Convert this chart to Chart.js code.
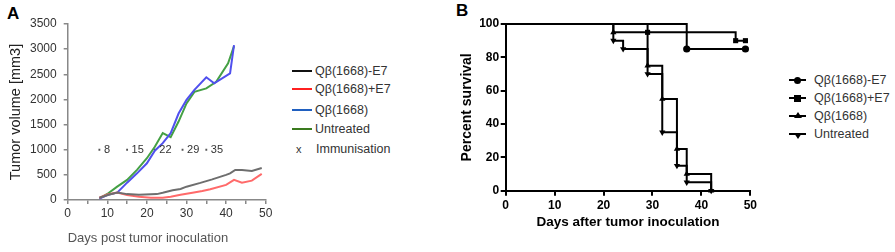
<!DOCTYPE html>
<html>
<head>
<meta charset="utf-8">
<script src="https://cdn.jsdelivr.net/npm/chart.js@4/dist/chart.umd.min.js"></script>
<style>
  body { margin:0; width:895px; height:252px; background:#fff; position:relative; overflow:hidden;
         font-family:"Liberation Sans", Arial, sans-serif; }
  #wrapA { position:absolute; left:0; top:0; width:280px; height:252px; }
  #wrapB { position:absolute; left:440px; top:0; width:320px; height:252px; }
  .panel { position:absolute; font-weight:bold; font-size:17px; color:#000; line-height:17px; }
  .leg { position:absolute; font-size:12.5px; color:#333; white-space:nowrap; line-height:14px; }
  .mk { position:absolute; background:#000; }
</style>
</head>
<body>
<div class="panel" style="left:7px;top:5px">A</div>
<div class="panel" style="left:456px;top:2px">B</div>
<div id="wrapA"><canvas id="chartA" width="280" height="252"></canvas></div>
<div id="wrapB"><canvas id="chartB" width="320" height="252"></canvas></div>
<div id="legends"></div>
<script>
// ---- panel A: tumour volume ----
const seriesNames = ['Qβ(1668)-E7', 'Qβ(1668)+E7', 'Qβ(1668)', 'Untreated'];

const daysE7minus = [8, 10.5, 12.5, 15, 18, 22.5, 24, 26.5, 28.5, 30, 33.5, 36.5, 40, 41, 42.3, 44, 46.5, 49];
const volE7minus  = [45, 110, 150, 117, 104, 117, 143, 195, 220, 265, 340, 410, 500, 530, 598, 595, 578, 635];

const daysE7plus = [8, 10, 12.5, 15, 18, 21, 24, 26, 28.5, 31.5, 34, 36, 40, 42, 44, 46.5, 49];
const volE7plus  = [45, 110, 150, 97, 65, 45, 45, 65, 105, 145, 180, 215, 300, 400, 345, 385, 520];

const daysQb = [8, 10, 12.5, 15, 17.5, 20, 22, 24, 26, 28, 30, 32, 35, 37, 41, 42];
const volQb  = [30, 100, 145, 345, 530, 730, 980, 1130, 1330, 1720, 1990, 2190, 2440, 2320, 2520, 3080];

const daysUntreated = [8, 10, 12.5, 15, 17.5, 20, 22, 24, 26, 28, 30, 32, 35, 37.5, 40.5, 42];
const volUntreated  = [30, 120, 265, 400, 600, 830, 1060, 1330, 1250, 1560, 1920, 2150, 2220, 2350, 2720, 3060];

const immunDays = [8, 15, 22, 29, 35];
const immunLevel = 1000;

const xTicksA = [0, 10, 20, 30, 40, 50];
const yTicksA = [0, 500, 1000, 1500, 2000, 2500, 3000, 3500];

// ---- panel B: survival ----
const survDays = [
  [0, 37, 49],
  [0, 29, 47, 49],
  [0, 22, 29, 32, 35, 37, 42],
  [0, 22, 24, 29, 32, 35, 37, 42]
];
const survPct = [
  [100, 85, 85],
  [100, 95, 90, 90],
  [100, 95, 75, 55, 25, 10, 0],
  [100, 90, 85, 70, 35, 15, 5, 0]
];
const xTicksB = [0, 10, 20, 30, 40, 50];
const yTicksB = [0, 20, 40, 60, 80, 100];

const lineColorsA = ['#6e6e6e', '#ff6a6a', '#5050ee', '#45a045'];
const legendColorsA = ['#111', '#ff2020', '#2060c0', '#3a7a1e'];
const markerStyles = ['circle', 'rect', 'triangle', 'triangle'];
const markerRot = [0, 0, 0, 180];

const FONT = '"Liberation Sans", Arial, sans-serif';
const pts = (xs, ys) => xs.map((x, i) => ({x: x, y: ys[i]}));

const immunLabels = {
  id: 'immunLabels',
  afterDatasetsDraw(chart) {
    const {ctx, scales: {x, y}} = chart;
    ctx.save();
    ctx.font = '11px ' + FONT;
    ctx.fillStyle = '#333';
    ctx.textBaseline = 'middle';
    immunDays.forEach(d => {
      ctx.fillText(String(d), x.getPixelForValue(d) + 4.5, y.getPixelForValue(immunLevel));
    });
    ctx.restore();
  }
};

const volDays = [daysE7minus, daysE7plus, daysQb, daysUntreated];
const volVals = [volE7minus, volE7plus, volQb, volUntreated];

new Chart(document.getElementById('chartA'), {
  type: 'line',
  data: {
    datasets: volVals.map((v, i) => ({
      label: seriesNames[i],
      data: pts(volDays[i], v),
      borderColor: lineColorsA[i],
      borderWidth: 2,
      pointRadius: 0,
      tension: 0,
      fill: false
    })).concat([{
      label: 'Immunisation',
      data: immunDays.map(d => ({x: d, y: immunLevel})),
      showLine: false,
      pointStyle: 'rect',
      pointRadius: 1.3,
      pointBackgroundColor: '#555',
      pointBorderWidth: 0
    }])
  },
  options: {
    responsive: false,
    animation: false,
    layout: {padding: {left: 0, right: 14.3, top: 24, bottom: 0}},
    plugins: {legend: {display: false}, tooltip: {enabled: false}},
    scales: {
      x: {
        type: 'linear', min: 0, max: 50,
        afterFit: s => { s.height = 52; },
        border: {color: '#888', width: 1.5},
        grid: {drawOnChartArea: false, color: '#888', lineWidth: 1.5, tickLength: 4},
        ticks: {stepSize: 5, autoSkip: false, maxRotation: 0, padding: 2, color: '#333',
                font: {family: FONT, size: 12},
                callback: v => xTicksA.includes(v) ? String(v) : ''},
        title: {display: true, text: 'Days post tumor inoculation', align: 'start', color: '#555',
                font: {family: FONT, size: 13}, padding: {top: 0, bottom: 6}}
      },
      y: {
        min: 0, max: 3500,
        afterFit: s => { s.width = 67.7; },
        border: {color: '#888', width: 1.5},
        grid: {drawOnChartArea: false, color: '#888', lineWidth: 1.5, tickLength: 4},
        ticks: {stepSize: 500, padding: 7, color: '#333', font: {family: FONT, size: 12},
                callback: v => yTicksA.includes(v) ? String(v) : ''},
        title: {display: true, text: 'Tumor volume [mm3]', color: '#222',
                font: {family: FONT, size: 14.5}, padding: {top: 7, bottom: 0}}
      }
    }
  },
  plugins: [immunLabels]
});

new Chart(document.getElementById('chartB'), {
  type: 'line',
  data: {
    datasets: survPct.map((v, i) => ({
      label: seriesNames[i],
      data: pts(survDays[i], v),
      stepped: 'before',
      borderColor: '#000',
      borderWidth: 2,
      pointStyle: markerStyles[i],
      rotation: markerRot[i],
      pointRadius: c => c.dataIndex === 0 ? 0 : 3.6,
      pointBackgroundColor: '#000',
      pointBorderColor: '#000',
      pointBorderWidth: 0,
      clip: false,
      fill: false
    }))
  },
  options: {
    responsive: false,
    animation: false,
    layout: {padding: {left: 0, right: 8.3, top: 24, bottom: 0}},
    plugins: {legend: {display: false}, tooltip: {enabled: false}},
    scales: {
      x: {
        type: 'linear', min: 0, max: 50,
        afterFit: s => { s.height = 61.3; },
        border: {color: '#000', width: 2},
        grid: {drawOnChartArea: false, color: '#000', lineWidth: 2, tickLength: 5},
        ticks: {stepSize: 10, autoSkip: false, maxRotation: 0, padding: 3, color: '#000',
                font: {family: FONT, size: 12, weight: 'bold'},
                callback: v => xTicksB.includes(v) ? String(v) : ''},
        title: {display: true, text: 'Days after tumor inoculation', color: '#000',
                font: {family: FONT, size: 13.5, weight: 'bold'}, padding: {top: 0, bottom: 22}}
      },
      y: {
        min: 0, max: 100,
        afterFit: s => { s.width = 65.7; },
        border: {color: '#000', width: 2},
        grid: {drawOnChartArea: false, color: '#000', lineWidth: 2, tickLength: 5},
        ticks: {stepSize: 20, padding: 1.5, color: '#000', font: {family: FONT, size: 12, weight: 'bold'},
                callback: v => yTicksB.includes(v) ? String(v) : ''},
        title: {display: true, text: 'Percent survival', color: '#000',
                font: {family: FONT, size: 14, weight: 'bold'}, padding: {top: 18.6, bottom: 0}}
      }
    }
  }
});

// ---- legends (HTML) ----
const leg = document.getElementById('legends');
function add(html) { leg.insertAdjacentHTML('beforeend', html); }

const legYA = [71, 89, 110, 129];
seriesNames.forEach((n, i) => {
  add(`<div class="mk" style="left:292px;top:${legYA[i] - 1.2}px;width:20px;height:2.5px;background:${legendColorsA[i]}"></div>`);
  add(`<div class="leg" style="left:315px;top:${legYA[i] - 7}px">${n}</div>`);
});
add(`<div class="leg" style="left:296px;top:142px;font-size:11px">x</div>`);
add(`<div class="leg" style="left:316px;top:142px">Immunisation</div>`);

const legYB = [80, 98, 116, 134];
seriesNames.forEach((n, i) => {
  const y = legYB[i];
  add(`<div class="mk" style="left:789px;top:${y - 1}px;width:17px;height:2px"></div>`);
  let m;
  if (i === 0) m = `<div class="mk" style="left:794px;top:${y - 3.5}px;width:7px;height:7px;border-radius:50%"></div>`;
  else if (i === 1) m = `<div class="mk" style="left:794px;top:${y - 3.5}px;width:7px;height:7px"></div>`;
  else if (i === 2) m = `<div style="position:absolute;left:793.5px;top:${y - 4.5}px;width:0;height:0;border-left:4px solid transparent;border-right:4px solid transparent;border-bottom:6px solid #000"></div>`;
  else m = `<div style="position:absolute;left:793.5px;top:${y - 1.5}px;width:0;height:0;border-left:4px solid transparent;border-right:4px solid transparent;border-top:6px solid #000"></div>`;
  add(m);
  add(`<div class="leg" style="left:814px;top:${y - 7}px">${n}</div>`);
});
</script>
</body>
</html>
